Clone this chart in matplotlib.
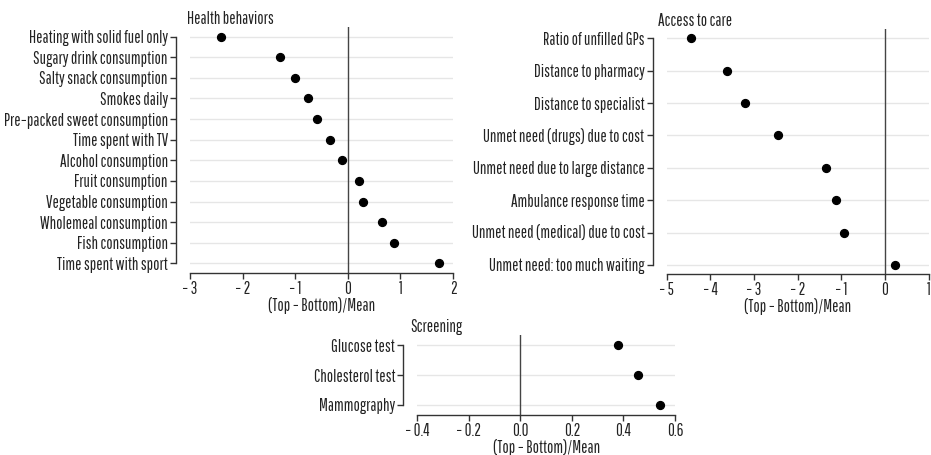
import numpy as np
import matplotlib
matplotlib.use('Agg')
import matplotlib.pyplot as plt

plt.rcParams['font.family'] = ['Pathway Gothic One', 'Roboto Condensed', 'DejaVu Sans']
plt.rcParams['axes.unicode_minus'] = True

# data
health_labels = ['Heating with solid fuel only', 'Sugary drink consumption',
                 'Salty snack consumption', 'Smokes daily',
                 'Pre\u2212packed sweet consumption', 'Time spent with TV',
                 'Alcohol consumption', 'Fruit consumption',
                 'Vegetable consumption', 'Wholemeal consumption',
                 'Fish consumption', 'Time spent with sport']
health_values = [-2.41, -1.29, -1.01, -0.76, -0.59, -0.33, -0.12,
                 0.21, 0.29, 0.65, 0.87, 1.74]
health_ticks = [-3, -2, -1, 0, 1, 2]

access_labels = ['Ratio of unfilled GPs', 'Distance to pharmacy',
                 'Distance to specialist', 'Unmet need (drugs) due to cost',
                 'Unmet need due to large distance', 'Ambulance response time',
                 'Unmet need (medical) due to cost',
                 'Unmet need: too much waiting']
access_values = [-4.45, -3.62, -3.20, -2.45, -1.35, -1.12, -0.94, 0.24]
access_ticks = [-5, -4, -3, -2, -1, 0, 1]

screen_labels = ['Glucose test', 'Cholesterol test', 'Mammography']
screen_values = [0.38, 0.455, 0.543]
screen_ticks = [-0.4, -0.2, 0.0, 0.2, 0.4, 0.6]

dark = '#333333'
fs = 12
fig = plt.figure(figsize=(9.31, 4.55), dpi=100)


def dot_panel(rect, labels, values, ticks, title, pad, title_x, fmt):
    ax = fig.add_axes(rect)
    y = np.arange(len(labels))
    for yy in y:
        ax.axhline(yy, color='#e6e6e6', lw=1, zorder=0)
    ax.axvline(0, color='#444444', lw=1, zorder=1)
    ax.scatter(values, y, s=32, color='black', zorder=3)
    ax.set_yticks(y)
    ax.set_yticklabels(labels)
    ax.set_ylim(len(labels) - 1 + pad, -pad)
    ax.set_xticks(ticks)
    ax.set_xticklabels([fmt(t) for t in ticks])
    ax.set_xlim(ticks[0], ticks[-1])
    ax.set_xlabel('(Top \u2212 Bottom)/Mean', fontsize=fs, color='#222222', labelpad=0)
    for s in ['top', 'right']:
        ax.spines[s].set_visible(False)
    ax.spines['left'].set_position(('outward', 10))
    ax.spines['left'].set_bounds(0, len(labels) - 1)
    for s in ['left', 'bottom']:
        ax.spines[s].set_color(dark)
        ax.spines[s].set_linewidth(1)
    ax.tick_params(axis='both', colors=dark, labelcolor='#222222',
                   labelsize=fs, length=4, width=1, pad=2)
    ax.text(title_x, 1.0, title, transform=ax.transAxes, ha='left',
            va='bottom', fontsize=fs, color='#222222')
    return ax


def int_fmt(t):
    return f'{t:d}'.replace('-', '\u2212 ')


def dec_fmt(t):
    return f'{t:.1f}'.replace('-', '\u2212 ')


dot_panel([0.2041, 0.400, 0.2825, 0.5407], health_labels, health_values,
          health_ticks, 'Health behaviors', 0.47, -0.011, int_fmt)
dot_panel([0.7161, 0.3978, 0.2814, 0.5378], access_labels, access_values,
          access_ticks, 'Access to care', 0.28, -0.034, int_fmt)
dot_panel([0.4482, 0.0879, 0.2768, 0.1758], screen_labels, screen_values,
          screen_ticks, 'Screening', 0.35, -0.028, dec_fmt)

fig.savefig('out.png', dpi=100)
